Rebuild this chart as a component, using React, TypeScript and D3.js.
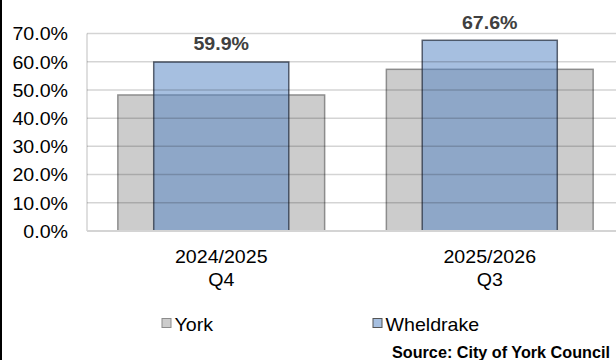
import React from 'react';
import * as d3 from 'd3';

const categories = ['2024/2025|Q4', '2025/2026|Q3'];
const yorkValues = [48.2, 57.3];
const wheldrakeValues = [59.9, 67.6];
const yTicks = [0, 10, 20, 30, 40, 50, 60, 70];
const seriesNames = ['York', 'Wheldrake'];
const sourceText = 'Source: City of York Council';

const W = 616;
const H = 360;
const SX = 1.06;
const FS = 18.5;
const FONT = '"Liberation Sans", Arial, sans-serif';

export default function App() {
  const x = d3.scaleBand<string>().domain(categories).range([87, 624]).padding(0);
  const y = d3.scaleLinear().domain([0, 70]).range([231, 33.5]);
  const bw = x.bandwidth();
  const yorkW = bw * 0.77;
  const wheW = bw * 0.503;
  const fmt = (v: number) => d3.format('.1f')(v) + '%';

  const T = (props: any) => {
    const { x: tx, y: ty, children, anchor, ...rest } = props;
    return (
      <text
        transform={`translate(${tx},${ty}) scale(${SX},1)`}
        textAnchor={anchor || 'start'}
        fontFamily={FONT}
        fontSize={FS}
        {...rest}
      >
        {children}
      </text>
    );
  };

  return (
    <svg
      width={W}
      height={H}
      style={{ position: 'absolute', left: 0, top: 0, background: '#fff' }}
    >
      <rect x={0} y={0} width={W} height={H} fill="#fff" />
      {/* plot left edge */}
      <line x1={87} x2={87} y1={y(70)} y2={y(0)} stroke="#d4d4d4" strokeWidth={1.5} />
      {/* bars */}
      {categories.map((c, i) => {
        const cx = (x(c) as number) + bw / 2;
        return (
          <g key={c}>
            <rect
              x={cx - yorkW / 2}
              y={y(yorkValues[i])}
              width={yorkW}
              height={y(0) - y(yorkValues[i])}
              fill="#cccccc"
              stroke="#8c8c8c"
              strokeWidth={1.5}
            />
            <rect
              x={cx - wheW / 2}
              y={y(wheldrakeValues[i])}
              width={wheW}
              height={y(0) - y(wheldrakeValues[i])}
              fill="rgba(87,134,196,0.53)"
              stroke="rgba(40,50,65,0.75)"
              strokeWidth={1.5}
            />
          </g>
        );
      })}
      {/* gridlines on top */}
      {yTicks.filter((t) => t > 0).map((t) => (
        <line key={t} x1={87} x2={W} y1={y(t)} y2={y(t)} stroke="rgba(0,0,0,0.17)" strokeWidth={1.5} />
      ))}
      <line x1={87} x2={W} y1={y(0)} y2={y(0)} stroke="#d4d4d4" strokeWidth={2} />
      {/* y tick labels */}
      {yTicks.map((t) => (
        <T key={t} x={68} y={y(t) + 6.8} anchor="end" fill="#000">
          {fmt(t)}
        </T>
      ))}
      {/* data labels */}
      {categories.map((c, i) => (
        <T
          key={c}
          x={(x(c) as number) + bw / 2}
          y={y(wheldrakeValues[i]) - 11.5}
          anchor="middle"
          fontWeight="bold"
          fill="#404040"
        >
          {fmt(wheldrakeValues[i])}
        </T>
      ))}
      {/* category labels */}
      {categories.map((c) => {
        const lines = c.split('|');
        const cx = (x(c) as number) + bw / 2;
        return (
          <g key={c}>
            <T x={cx} y={263} anchor="middle" fill="#000">{lines[0]}</T>
            <T x={cx} y={286} anchor="middle" fill="#000">{lines[1]}</T>
          </g>
        );
      })}
      {/* legend */}
      {seriesNames.map((s, i) => {
        const lx = [162, 373][i];
        return (
          <g key={s}>
            <rect
              x={lx}
              y={318.5}
              width={9}
              height={9}
              fill={i === 0 ? '#cccccc' : '#a6bfe0'}
              stroke={i === 0 ? '#8c8c8c' : '#555'}
              strokeWidth={1}
            />
            <T x={lx + 12.5} y={331} fill="#000">{s}</T>
          </g>
        );
      })}
      {/* source */}
      <text x={392} y={358} fontFamily={FONT} fontSize={16.2} fontWeight="bold" fill="#000">
        {sourceText}
      </text>
      {/* left black border */}
      <rect x={0} y={0} width={2} height={H} fill="#000" />
    </svg>
  );
}
